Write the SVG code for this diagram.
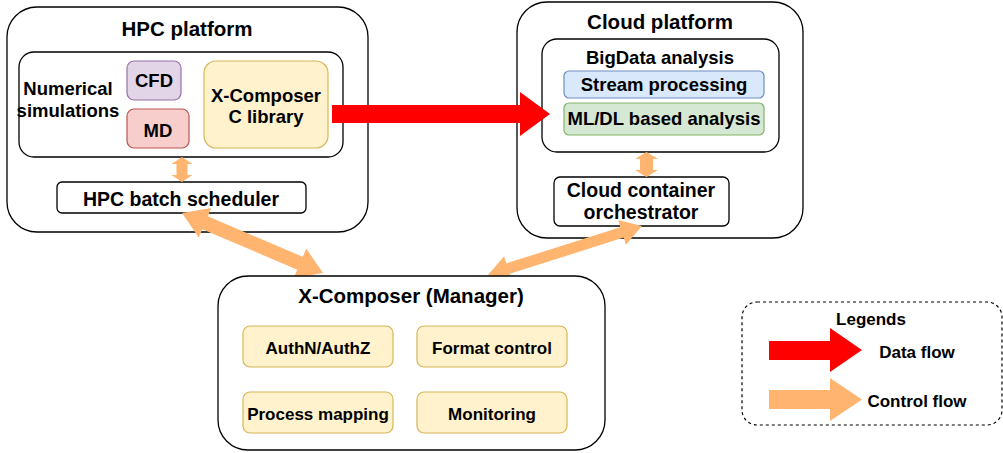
<svg xmlns="http://www.w3.org/2000/svg" width="1003" height="453" viewBox="0 0 1003 453">
  <style>
    text { font-family: "Liberation Sans", Arial, sans-serif; font-weight: bold; fill: #000; text-anchor: middle; }
    .title { font-size: 20.5px; }
    .lbl { font-size: 18.5px; }
    .big { font-size: 19.5px; }
    .sm { font-size: 17px; }
    .box { fill: #fff; stroke: #000; stroke-width: 1.3; }
    .yel { fill: #fff2cc; stroke: #d6b656; stroke-width: 1.2; }
    .pur { fill: #e1d5e7; stroke: #9673a6; stroke-width: 1.2; }
    .red { fill: #f8cecc; stroke: #b85450; stroke-width: 1.2; }
    .blu { fill: #dae8fc; stroke: #6c8ebf; stroke-width: 1.2; }
    .grn { fill: #d5e8d4; stroke: #82b366; stroke-width: 1.2; }
    .data { fill: #ff0000; }
    .ctrl { fill: #ffb570; }
  </style>

  <rect width="1003" height="453" fill="#fff"/>

  <!-- HPC platform -->
  <g id="hpc-platform">
    <rect class="box" x="7" y="7" width="361" height="225" rx="30"/>
    <text class="title" x="187" y="36">HPC platform</text>
    <rect class="box" x="19" y="52" width="324" height="105" rx="15"/>
    <text class="lbl" x="68" y="95">Numerical</text>
    <text class="lbl" x="68" y="117">simulations</text>
  </g>
  <g id="cfd">
    <rect class="pur" x="127" y="61" width="54" height="39" rx="7"/>
    <text class="lbl" x="154" y="87">CFD</text>
  </g>
  <g id="md">
    <rect class="red" x="127" y="109" width="62" height="39" rx="7"/>
    <text class="lbl" x="158" y="137">MD</text>
  </g>
  <g id="xc-library">
    <rect class="yel" x="204" y="61" width="124" height="87" rx="12"/>
    <text class="lbl" x="266" y="102">X-Composer</text>
    <text class="lbl" x="266" y="123">C library</text>
  </g>
  <g id="hpc-scheduler">
    <rect class="box" x="57" y="182" width="249" height="31" rx="5"/>
    <text class="big" x="181" y="206">HPC batch scheduler</text>
  </g>

  <!-- Cloud platform -->
  <g id="cloud-platform">
    <rect class="box" x="517" y="2" width="286" height="236" rx="30"/>
    <text class="title" x="660" y="29">Cloud platform</text>
  </g>
  <g id="bigdata">
    <rect class="box" x="542" y="39" width="237" height="113" rx="15"/>
    <text class="lbl" x="660" y="64">BigData analysis</text>
  </g>
  <g id="stream">
    <rect class="blu" x="564" y="71" width="200" height="27" rx="5"/>
    <text class="lbl" x="664" y="91">Stream processing</text>
  </g>
  <g id="mldl">
    <rect class="grn" x="564" y="103" width="200" height="32" rx="5"/>
    <text class="lbl" x="664" y="125">ML/DL based analysis</text>
  </g>
  <g id="orchestrator">
    <rect class="box" x="554" y="177" width="175" height="49" rx="6"/>
    <text class="big" x="641" y="197">Cloud container</text>
    <text class="big" x="641" y="219">orchestrator</text>
  </g>

  <!-- Connectors -->
  <g id="connectors">
    <polygon class="data" points="332,105 520,105 520,92 550,114 520,136 520,123 332,123"/>
    <polygon class="ctrl" points="182,157 192.5,164 187.5,164 187.5,175 192.5,175 182,182 171.5,175 176.5,175 176.5,164 171.5,164"/>
    <polygon class="ctrl" points="646.5,152 658,159 653,159 653,170 658,170 646.5,177 635,170 640,170 640,159 635,159"/>
    <polygon class="ctrl" points="182,213 198.74,237.52 202.27,229.23 297.25,269.65 293.72,277.94 323,273 306.26,248.48 302.73,256.77 207.75,216.35 211.28,208.06"/>
    <polygon class="ctrl" points="488,275 511.95,281.02 509.68,273.87 623.66,237.61 625.93,244.76 642,226 618.05,219.98 620.32,227.13 506.34,263.39 504.07,256.24"/>
  </g>

  <!-- X-Composer manager -->
  <g id="manager">
    <rect class="box" x="218" y="276" width="387" height="174" rx="30"/>
    <text class="title" x="411" y="303">X-Composer (Manager)</text>
  </g>
  <g id="authn">
    <rect class="yel" x="243" y="326" width="150" height="41" rx="7"/>
    <text class="sm" x="318" y="354">AuthN/AuthZ</text>
  </g>
  <g id="format">
    <rect class="yel" x="417" y="326" width="150" height="41" rx="7"/>
    <text class="sm" x="492" y="354">Format control</text>
  </g>
  <g id="mapping">
    <rect class="yel" x="243" y="392" width="150" height="41" rx="7"/>
    <text class="sm" x="318" y="420">Process mapping</text>
  </g>
  <g id="monitoring">
    <rect class="yel" x="417" y="392" width="150" height="41" rx="7"/>
    <text class="sm" x="492" y="420">Monitoring</text>
  </g>

  <!-- Legend -->
  <g id="legend">
    <rect x="742" y="302" width="260" height="123" rx="15" fill="#fff" stroke="#000" stroke-width="1.2" stroke-dasharray="3 3"/>
    <text class="sm" x="871" y="325">Legends</text>
    <polygon class="data" points="769,341 830,341 830,328 862,350 830,372 830,360 769,360"/>
    <text class="sm" x="917" y="358">Data flow</text>
    <polygon class="ctrl" points="769,390 830,390 830,378 862,399.5 830,421 830,409 769,409"/>
    <text class="sm" x="917" y="407">Control flow</text>
  </g>
</svg>
